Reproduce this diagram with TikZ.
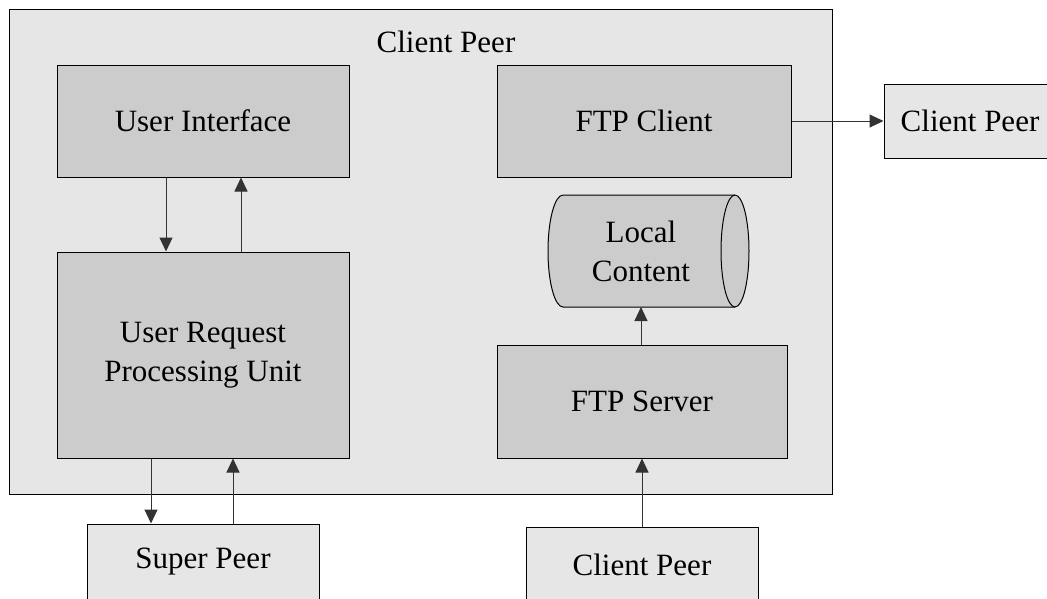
\documentclass[tikz,border=0pt]{standalone}
\usepackage{fontspec}
\setmainfont{Liberation Serif}
\usetikzlibrary{arrows.meta}
\definecolor{paneFill}{HTML}{E6E6E6}
\definecolor{unitFill}{HTML}{CCCCCC}
\begin{document}
\begin{tikzpicture}[x=1pt,y=-1pt,
  lbl/.style={font=\fontsize{31}{39}\selectfont, align=center},
  unit/.style={lbl, draw=black, line width=1pt, fill=unitFill, inner sep=0pt},
  peer/.style={lbl, draw=black, line width=1pt, fill=paneFill, inner sep=0pt},
  arr/.style={draw=black!80, line width=1pt, -{Triangle[length=14pt,width=13pt]}}]
\clip (0,0) rectangle (1047,598);
\fill[white] (0,0) rectangle (1047,598);

% enclosing client peer
\node[draw=black, line width=1pt, fill=paneFill, minimum width=823pt, minimum height=485pt, inner sep=0pt] (host) at (420.5,251.5) {};
\node[lbl] (title) at (446,42) {Client Peer};

% internal units
\node[unit, minimum width=292pt, minimum height=112pt] (ui) at (203,121) {User Interface};
\node[unit, minimum width=292pt, minimum height=206pt] (urpu) at (203,355) {User Request\\Processing Unit};
\node[unit, minimum width=294pt, minimum height=112pt] (ftpc) at (644,121) {FTP Client};
\node[unit, minimum width=290pt, minimum height=113pt] (ftps) at (642,401.5) {FTP Server};

% local content store (horizontal cylinder)
\filldraw[draw=black, line width=1pt, fill=unitFill]
  (563,195) -- (735,195) arc[start angle=-90, end angle=90, x radius=14, y radius=56]
  -- (563,307) arc[start angle=90, end angle=270, x radius=15, y radius=56] -- cycle;
\draw[black, line width=1pt] (735,195) arc[start angle=-90, end angle=-270, x radius=14, y radius=56];
\node[lbl] (lc) at (641,251) {Local\\Content};
\coordinate (lcbase) at (641,307);

% external peers
\node[peer, minimum width=172pt, minimum height=74pt] (cpr) at (970,121) {Client Peer};
\node[peer, minimum width=232pt, minimum height=76pt] (sp) at (203,562) {Super Peer};
\node[peer, minimum width=232pt, minimum height=76pt] (cpb) at (642,565) {Client Peer};

% connectors
\draw[arr] ([xshift=-37pt]ui.south) -- ([xshift=-37pt]urpu.north);
\draw[arr] ([xshift=38pt]urpu.north) -- ([xshift=38pt]ui.south);
\draw[arr] ([xshift=-52pt]urpu.south) -- ([xshift=-52pt]sp.north);
\draw[arr] ([xshift=30pt]sp.north) -- ([xshift=30pt]urpu.south);
\draw[arr] (ftpc.east) -- (ftpc.east -| cpr.west);
\draw[arr] (ftps.north -| lcbase) -- (lcbase);
\draw[arr] (cpb.north) -- (cpb.north |- ftps.south);
\end{tikzpicture}
\end{document}
